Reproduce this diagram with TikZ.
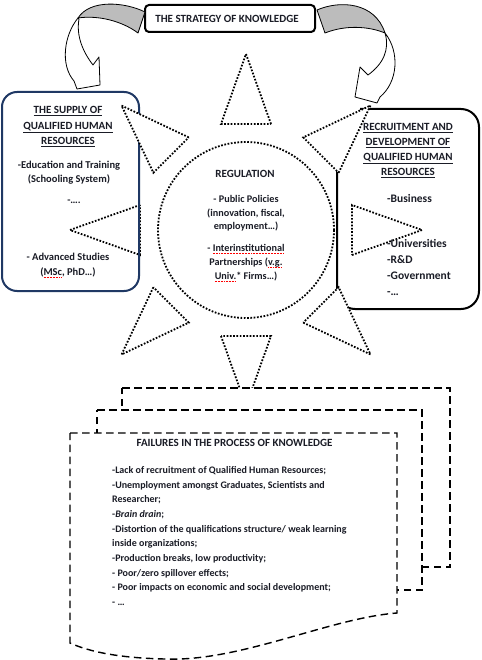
\documentclass[tikz,border=0pt]{standalone}
\usepackage{fontspec}
\setmainfont{Carlito}
\definecolor{navy}{HTML}{1F3864}
\definecolor{txtc}{HTML}{1A1C26}
\definecolor{arrowgray}{HTML}{BCBCBC}
\newcommand\spellwave[1]{\setbox0\hbox{#1}\rlap{\textcolor{red}{\raisebox{-2.2pt}{\hbox to \wd0{\xleaders\hbox{\rule{0.9pt}{0.6pt}\hspace{0.6pt}}\hfill}}}}#1}
\newcommand\ul[1]{\underline{#1}}
\tikzset{
  txt/.style={text=txtc, inner sep=0pt, align=center},
  fs/.style 2 args={font=\bfseries\fontsize{#1}{#2}\selectfont},
  supbox/.style={draw=navy, line width=2pt, rounded corners=15pt, minimum width=137pt, minimum height=199pt, inner sep=0pt},
  recline/.style={draw=black, line width=2pt, rounded corners=18pt},
  topbox/.style={draw=black, line width=2pt, rounded corners=4pt, fill=white, minimum width=170pt, minimum height=27pt, inner sep=0pt, text=txtc},
  blockarrow/.style={draw=black, line width=0.8pt, line join=round},
  sunline/.style={draw=black, line width=1.8pt, dash pattern=on 1.7pt off 1.6pt, fill=white},
  docline/.style={draw=black, line width=1.4pt, dash pattern=on 7.5pt off 4.5pt, fill=white},
}
\begin{document}
\begin{tikzpicture}[x=1pt,y=-1pt]
\useasboundingbox (0,0) rectangle (481,660);
\fill[white] (0,0) rectangle (481,660);

% boxes
\node[supbox] (supply) at (70.5,191.5) {};
\node[minimum width=142pt, minimum height=200pt, inner sep=0pt] (recruit) at (408,209) {};
\draw[recline] (360,109) -- (479,109) -- (479,309) -- (337,309) -- (337,150);

% strategy box
\node[topbox, fs={11}{13}] (strategy) at (230,18.5) {\makebox[0pt]{\hspace{-6pt}THE STRATEGY OF KNOWLEDGE}\hspace{0pt}};

% curved block arrows (gray back band, white front band with head)
\path[blockarrow, fill=arrowgray] (145,12) .. controls (125,2) and (90,-1) .. (78,18) .. controls (98,15) and (122,21) .. (138,33) -- cycle;
\path[blockarrow, fill=white] (78,18) .. controls (64,35) and (60,65) .. (74,81) -- (77,89) -- (100,85) -- (99,57) -- (93,65) .. controls (83,52) and (76,36) .. (79,19) -- cycle;
\path[blockarrow, fill=arrowgray] (317,10) .. controls (340,0) and (375,2) .. (385,33) .. controls (368,26) and (345,25) .. (325,33) -- cycle;
\path[blockarrow, fill=white] (385,33) .. controls (400,52) and (398,82) .. (380,97) -- (377,103) -- (355,97) -- (360,67) -- (368,75) .. controls (383,64) and (390,50) .. (385,33) -- cycle;

% sun
\foreach \a in {0,45,...,315} {
  \filldraw[sunline, shift={(246,230)}, rotate=\a] (106,25) -- (176,0) -- (106,-25) -- cycle;
}
\filldraw[sunline] (246,230) circle[radius=88pt];
\draw[navy, line width=2pt] (139,200) -- (139,258);

% texts in left box
\node[txt, fs={11}{15.5}] (supT) at (68,126.5) {\ul{THE SUPPLY OF}\\\ul{QUALIFIED HUMAN}\\\ul{RESOURCES}};
\node[txt, fs={10.5}{14}] (supA) at (69,173) {-Education and Training\\(Schooling System)};
\node[txt, fs={10.5}{14}] (supB) at (74,202) {-….};
\node[txt, fs={10.5}{15}] (supC) at (68,265.5) {- Advanced Studies\\(\spellwave{MSc}, PhD…)};

% texts in right box
\node[txt, fs={11}{15}] (recT) at (408,150.5) {\ul{RECRUITMENT AND}\\\ul{DEVELOPMENT OF}\\\ul{QUALIFIED HUMAN}\\\ul{RESOURCES}};
\node[txt, fs={11.5}{15}, anchor=west] (recA) at (387,199) {-Business};
\node[txt, fs={11.5}{15.7}, align=left, anchor=west] (recB) at (387,267.5) {-Universities\\-R\&D\\-Government\\-…};

% texts in circle
\node[txt, fs={11}{13}] (reg) at (245,174) {REGULATION};
\node[txt, fs={10.2}{13.5}] (regA) at (246,213.5) {- Public Policies\\(innovation, fiscal,\\employment…)};
\node[txt, fs={10.2}{14}] (regB) at (246,263) {- \spellwave{Interinstitutional}\\Partnerships (\spellwave{v.g.}\\\spellwave{Univ.}* Firms…)};

% multidocument
\filldraw[docline] (122,388) -- (450,388) -- (450,567) -- (122,567) -- cycle;
\filldraw[docline] (97,410) -- (422,410) -- (422,590) -- (97,590) -- cycle;
\filldraw[docline] (70,433) -- (397,433) -- (397,613) .. controls (330,618) and (240,662) .. (165,659) .. controls (120,658) and (90,652) .. (70,643) -- cycle;

\node[txt, fs={11}{13}] (failT) at (234.5,443) {FAILURES IN THE PROCESS OF KNOWLEDGE};
\node[txt, fs={10}{14.7}, align=left, anchor=west] (failL) at (112,536) {-Lack of recruitment of Qualified Human Resources;\\
-Unemployment amongst Graduates, Scientists and\\
Researcher;\\
-\textit{Brain drain};\\
-Distortion of the qualifications structure/ weak learning\\
inside organizations;\\
-Production breaks, low productivity;\\
- Poor/zero spillover effects;\\
- Poor impacts on economic and social development;\\
- …};
\end{tikzpicture}
\end{document}
